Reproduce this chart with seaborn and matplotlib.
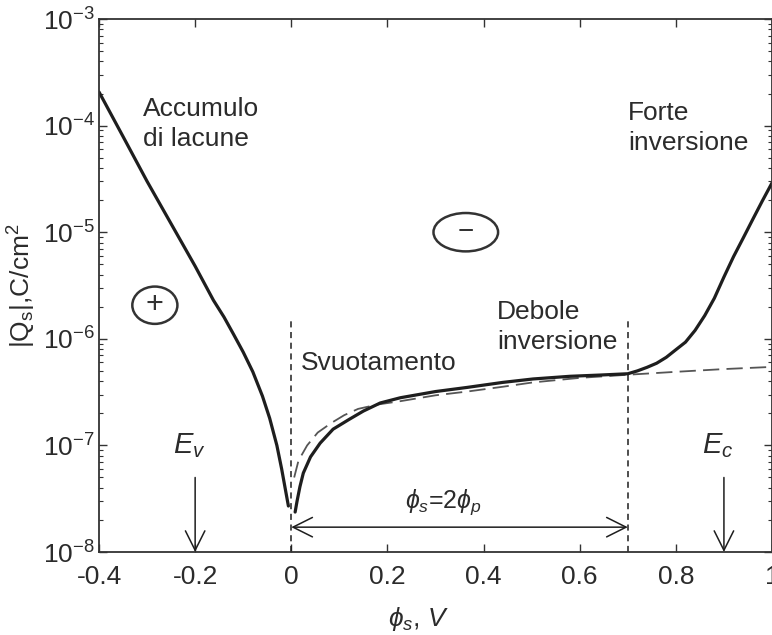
import numpy as np
import pandas as pd
import matplotlib
matplotlib.use("Agg")
import matplotlib.pyplot as plt
from matplotlib.patches import Ellipse
import seaborn as sns

# =====================================================
# DATA
# =====================================================
# accumulation branch (phi_s < 0)
phi_acc = [-0.40, -0.35, -0.30, -0.25, -0.20, -0.162, -0.14, -0.12, -0.10, -0.08, -0.06, -0.045,
           -0.03, -0.02, -0.012, -0.006]
q_acc = [2.07e-4, 7.9e-5, 3.0e-5, 1.2e-5, 4.8e-6, 2.3e-6, 1.6e-6, 1.1e-6, 7.5e-7, 4.9e-7, 2.9e-7, 1.8e-7,
         1.0e-7, 6.0e-8, 3.8e-8, 2.7e-8]

# depletion / weak / strong inversion branch (exact, solid)
phi_inv = [0.008, 0.012, 0.018, 0.025, 0.04, 0.060, 0.087, 0.12, 0.15, 0.185, 0.227, 0.30, 0.366, 0.44,
           0.503, 0.58, 0.642, 0.70, 0.72, 0.74, 0.76, 0.78, 0.80, 0.82, 0.84, 0.86, 0.88, 0.90, 0.92,
           0.94, 0.96, 0.98, 1.0]
q_inv = [2.37e-8, 3.0e-8, 4.1e-8, 5.5e-8, 7.8e-8, 1.05e-7, 1.42e-7, 1.75e-7, 2.1e-7, 2.5e-7, 2.8e-7,
         3.2e-7, 3.5e-7, 3.9e-7, 4.2e-7, 4.45e-7, 4.57e-7, 4.7e-7, 5.0e-7, 5.4e-7, 5.9e-7, 6.7e-7,
         7.9e-7, 9.3e-7, 1.2e-6, 1.65e-6, 2.4e-6, 3.8e-6, 5.9e-6, 8.8e-6, 1.32e-5, 1.97e-5, 2.9e-5]

# depletion approximation (dashed)
phi_dep = [0.006, 0.015, 0.033, 0.055, 0.083, 0.11, 0.139, 0.18, 0.227, 0.30, 0.366, 0.44, 0.503, 0.60,
           0.70, 0.80, 0.90, 1.0]
q_dep = [5.0e-8, 7.2e-8, 1.0e-7, 1.32e-7, 1.62e-7, 1.92e-7, 2.2e-7, 2.42e-7, 2.6e-7, 2.95e-7, 3.2e-7,
         3.55e-7, 3.9e-7, 4.3e-7, 4.6e-7, 4.9e-7, 5.2e-7, 5.45e-7]

x_ticks = [-0.4, -0.2, 0, 0.2, 0.4, 0.6, 0.8, 1.0]
x_tick_labels = ["-0.4", "-0.2", "0", "0.2", "0.4", "0.6", "0.8", "1"]

# =====================================================
# STYLE
# =====================================================
sns.set_theme(style="ticks")
plt.rcParams["font.family"] = ["Liberation Sans", "DejaVu Sans"]
plt.rcParams["mathtext.fontset"] = "custom"
plt.rcParams["mathtext.rm"] = "Liberation Sans"
plt.rcParams["mathtext.it"] = "Liberation Sans:italic"
plt.rcParams["mathtext.default"] = "regular"
plt.rcParams["axes.unicode_minus"] = False

ink = "#1e1e1e"
txt = "#2b2b2b"

fig = plt.figure(figsize=(7.72, 6.35), dpi=100)
ax = fig.add_axes([99 / 772, 1 - 552 / 635, 673 / 772, 533 / 635])

df_acc = pd.DataFrame({"phi": phi_acc, "q": q_acc})
df_inv = pd.DataFrame({"phi": phi_inv, "q": q_inv})
df_dep = pd.DataFrame({"phi": phi_dep, "q": q_dep})

sns.lineplot(data=df_dep, x="phi", y="q", ax=ax, color="#555555", lw=1.3)
ax.lines[-1].set_dashes([9, 4])
sns.lineplot(data=df_acc, x="phi", y="q", ax=ax, color=ink, lw=2.3)
sns.lineplot(data=df_inv, x="phi", y="q", ax=ax, color=ink, lw=2.3)

ax.set_yscale("log")
ax.set_xlim(-0.4, 1.0)
ax.set_ylim(1e-8, 1e-3)

# vertical dashed markers at phi_s = 0 and phi_s = 2 phi_p
for xv in [0.0, 0.7]:
    ax.plot([xv, xv], [1e-8, 1.5e-6], color=ink, lw=1.1, dashes=[4, 3])

# phi_s = 2 phi_p double arrow
ax.annotate("", xy=(0.0, 1.71e-8), xytext=(0.7, 1.71e-8),
            arrowprops=dict(arrowstyle="<->,head_length=0.7,head_width=0.35",
                            mutation_scale=20, lw=1.1, color=ink,
                            shrinkA=0, shrinkB=0))
ax.text(0.237, 2.95e-8, r"$\it{\phi_s}$=2$\it{\phi_p}$", fontsize=18, va="center", color=txt)

# band edge arrows
for xe, lab in [(-0.2, r"$\it{E_v}$"), (0.9, r"$\it{E_c}$")]:
    ax.annotate("", xy=(xe, 1e-8), xytext=(xe, 5e-8),
                arrowprops=dict(arrowstyle="->,head_length=0.7,head_width=0.35",
                                mutation_scale=20, lw=1.1, color=ink,
                                shrinkA=0, shrinkB=0))
    ax.text(xe - 0.012, 1e-7, lab, fontsize=21, ha="center", va="center", color=txt)

# region labels
ax.text(-0.308, 1.04e-4, "Accumulo\ndi lacune", fontsize=19, va="center", linespacing=1.3, color=txt)
ax.text(0.70, 9.5e-5, "Forte\ninversione", fontsize=19, va="center", linespacing=1.3, color=txt)
ax.text(0.428, 1.29e-6, "Debole\ninversione", fontsize=19, va="center", linespacing=1.3, color=txt)
ax.text(0.019, 5.9e-7, "Svuotamento", fontsize=19, va="center", color=txt)

# hand-drawn charge signs
ax.add_patch(Ellipse((0.083, 0.463), 0.067, 0.07, transform=ax.transAxes,
                     fill=False, lw=1.8, ec="#333333"))
ax.text(0.083, 0.463, "+", transform=ax.transAxes, fontsize=22, ha="center", va="center", color="#333333")
ax.add_patch(Ellipse((0.545, 0.60), 0.096, 0.072, transform=ax.transAxes,
                     fill=False, lw=1.8, ec="#333333"))
ax.text(0.545, 0.60, "\u2212", transform=ax.transAxes, fontsize=20, ha="center", va="center", color="#333333")

# axes cosmetics
ax.set_xticks(x_ticks)
ax.set_xticklabels(x_tick_labels)
ax.tick_params(which="both", direction="in", top=True, right=True, colors="#333333", labelcolor=txt)
ax.tick_params(which="major", length=6, width=1.0, labelsize=19)
ax.tick_params(which="minor", length=3, width=0.8)
ax.tick_params(axis="x", which="major", pad=9)
ax.tick_params(axis="y", which="major", pad=3)
for s in ax.spines.values():
    s.set_color("#333333")
    s.set_linewidth(1.3)

ax.set_xlabel(r"$\it{\phi_s}$, $\it{V}$", fontsize=19, color=txt)
ax.xaxis.set_label_coords(0.475, -0.1)
ax.set_ylabel(r"|Q$_s$|,C/cm$^2$", fontsize=19, color=txt)
ax.yaxis.set_label_coords(-0.09, 0.5)

fig.savefig("out.png", dpi=100)
